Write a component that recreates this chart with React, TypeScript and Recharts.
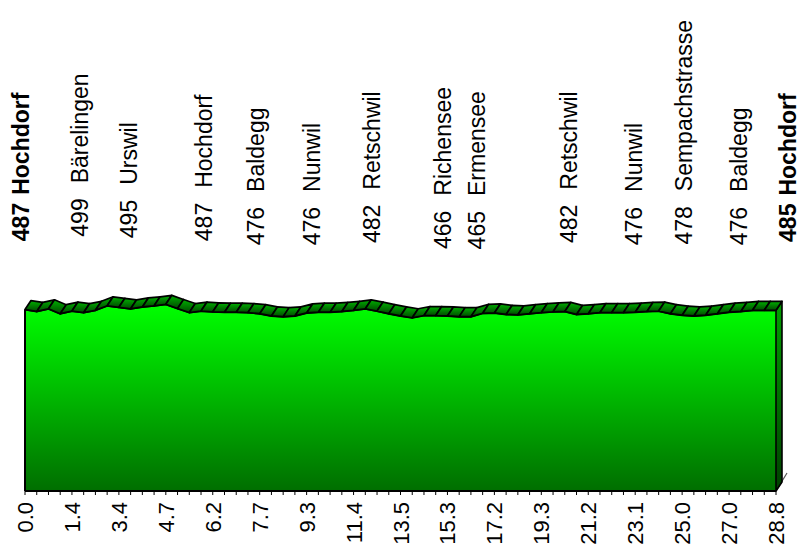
import React from "react";
import { ComposedChart, Area, Scatter, XAxis, YAxis, ReferenceLine } from "recharts";

// km markers shown under every 4th profile point
const KM_LABELS = ["0.0", "1.4", "3.4", "4.7", "6.2", "7.7", "9.3", "11.4", "13.5", "15.3", "17.2", "19.3", "21.2", "23.1", "25.0", "27.0", "28.8"];

// elevation (m) of the 65 profile points
const ELEVATION = [
  486, 481, 488, 475, 482, 478, 484, 496, 492, 488,
  493, 496, 500, 489, 478, 482, 480, 479, 479, 478,
  475, 469, 467, 469, 477, 479, 479, 481, 484, 488,
  482, 475, 469, 464, 470, 470, 469, 467, 467, 476,
  477, 473, 472, 475, 478, 480, 481, 473, 475, 478,
  478, 478, 479, 481, 482, 475, 471, 469, 471, 475,
  479, 481, 484, 484, 484,
];

// stops along the route
const STOP_NAMES = ["Hochdorf", "Bärelingen", "Urswil", "Hochdorf", "Baldegg", "Nunwil", "Retschwil", "Richensee", "Ermensee", "Retschwil", "Nunwil", "Sempachstrasse", "Baldegg", "Hochdorf"];
const STOP_ELEV = [487, 499, 495, 487, 476, 476, 482, 466, 465, 482, 476, 478, 476, 485];
const STOP_POS = [0, 5, 9.2, 15.6, 20, 24.8, 29.9, 36, 38.9, 46.7, 52.2, 56.5, 61.2, 64];

const profile = ELEVATION.map((elev, i) => ({ i, elev }));
const stops = STOP_NAMES.map((name, k) => ({ i: STOP_POS[k], elev: STOP_ELEV[k], name, k }));
const TICKS = profile.map((p) => p.i);

const FONT = "'Liberation Sans', Arial, sans-serif";
const DX = 6;
const DY = -9;

const BandSegment = (props: any) => {
  const { index, points } = props;
  if (!points || index >= points.length - 1) return <g key={`seg-${index}`} />;
  const a = points[index];
  const b = points[index + 1];
  const d = `M${a.x},${a.y} L${b.x},${b.y} L${b.x + DX},${b.y + DY} L${a.x + DX},${a.y + DY} Z`;
  return <path key={`seg-${index}`} d={d} fill="url(#bandFill)" stroke="#000" strokeWidth={1.7} strokeLinejoin="round" />;
};

const SideFace = (props: any) => {
  const { x1, y1, y2 } = props;
  const bot = Math.max(y1, y2);
  const top = Math.min(y1, y2);
  const x = x1;
  return (
    <g>
      <line x1={x} y1={bot} x2={x + 11} y2={bot - 18} stroke="#555" strokeWidth={1.2} />
      <path
        d={`M${x},${top} L${x + DX},${top + DY} L${x + DX},${bot + DY} L${x},${bot} Z`}
        fill="url(#sideFill)"
        stroke="#000"
        strokeWidth={1.6}
        strokeLinejoin="round"
      />
    </g>
  );
};

const StopLabel = (props: any) => {
  const { cx, cy, payload } = props;
  const last = payload.k === STOP_NAMES.length - 1;
  const bold = payload.k === 0 || last;
  const x = cx + 4 + (last ? 16 : 0);
  const y = cy - 68;
  return (
    <text
      transform={`translate(${x},${y}) rotate(-90)`}
      fontSize={23}
      fontFamily={FONT}
      fontWeight={bold ? "bold" : "normal"}
      fill="#000"
    >
      <tspan>{payload.elev}</tspan>
      <tspan dx={bold ? 8 : 15}>{payload.name}</tspan>
    </text>
  );
};

const KmTick = (props: any) => {
  const { x, y, payload } = props;
  const i = payload.value;
  return (
    <g>
      <line x1={x} y1={y} x2={x} y2={y + 4} stroke="#000" strokeWidth={1} />
      {i % 4 === 0 && (
        <text
          transform={`translate(${x + 8},${y + 11}) rotate(-90)`}
          textAnchor="end"
          fontSize={22}
          fontFamily={FONT}
          fill="#000"
        >
          {KM_LABELS[i / 4]}
        </text>
      )}
    </g>
  );
};

export default function App() {
  return (
    <div style={{ position: "absolute", left: 0, top: 0, background: "#fff" }}>
      <ComposedChart width={801} height={545} data={profile} margin={{ top: 267, right: 25, bottom: 0, left: 25 }}>
        <defs>
          <linearGradient id="frontFill" x1="0" y1="0" x2="0" y2="1">
            <stop offset="0%" stopColor="#00ff00" />
            <stop offset="100%" stopColor="#006e00" />
          </linearGradient>
          <linearGradient id="bandFill" x1="0" y1="0" x2="0" y2="1">
            <stop offset="0%" stopColor="#00b000" />
            <stop offset="100%" stopColor="#004800" />
          </linearGradient>
          <linearGradient id="sideFill" x1="0" y1="0" x2="0" y2="1">
            <stop offset="0%" stopColor="#00a000" />
            <stop offset="100%" stopColor="#004000" />
          </linearGradient>
        </defs>
        <XAxis
          dataKey="i"
          type="number"
          domain={[0, 64]}
          ticks={TICKS}
          interval={0}
          height={54}
          tickSize={0}
          tickMargin={0}
          tickLine={false}
          axisLine={{ stroke: "#000", strokeWidth: 2 }}
          tick={<KmTick />}
        />
        <YAxis hide domain={[0, 600]} />
        <Area
          type="linear"
          dataKey="elev"
          stroke="#000"
          strokeWidth={2}
          fill="url(#frontFill)"
          fillOpacity={1}
          dot={BandSegment}
          activeDot={false}
          isAnimationActive={false}
        />
        <ReferenceLine segment={[{ x: 0, y: 0 }, { x: 0, y: ELEVATION[0] }]} stroke="#000" strokeWidth={2} />
        <ReferenceLine segment={[{ x: 64, y: 0 }, { x: 64, y: ELEVATION[64] }]} shape={SideFace} />
        <Scatter data={stops} dataKey="elev" shape={StopLabel} isAnimationActive={false} />
      </ComposedChart>
    </div>
  );
}
